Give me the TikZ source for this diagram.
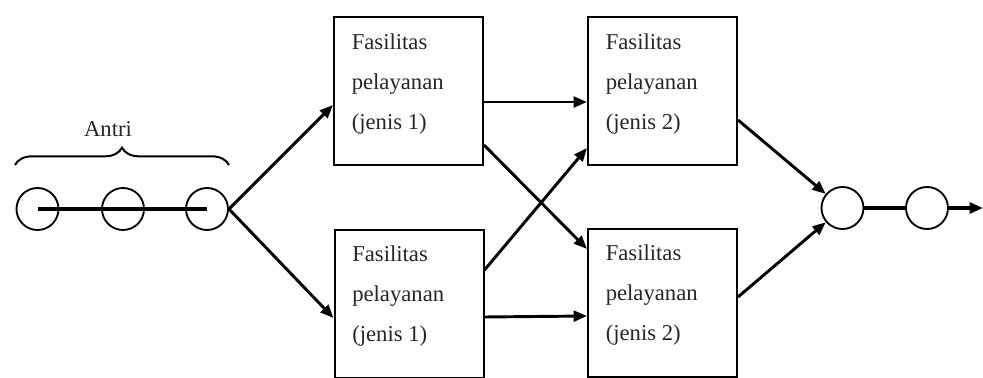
\documentclass[tikz,border=0pt]{standalone}
\usepackage{fontspec}
\setmainfont{Liberation Serif}
\usetikzlibrary{arrows.meta,calc,decorations.pathreplacing}

\tikzset{
  facility/.style={draw=black, line width=1.5pt, minimum width=111.75pt,
    minimum height=111pt, inner sep=0pt, fill=white},
  lbl/.style={anchor=base west, inner sep=0pt, text=black!85,
    font=\fontsize{17}{20}\selectfont},
  customer/.style={circle, draw=black, line width=1.4pt, minimum size=31.5pt,
    inner sep=0pt},
  flow/.style={line width=2.2pt, -{Triangle[length=10pt,width=8pt]}},
  queueline/.style={line width=3pt},
}

\begin{document}
\begin{tikzpicture}[x=0.75pt, y=-0.75pt]
\useasboundingbox (0,0) rectangle (983,378);

% waiting line
\node[customer] (q1) at (37.5,209) {};
\node[customer] (q2) at (123,209) {};
\node[customer] (q3) at (207,209) {};
\draw[queueline] (q1.center) -- (q3.center);
\draw[line width=1.5pt, decorate,
      decoration={brace, amplitude=13pt, raise=0pt}]
  (15,165) coordinate (bl) -- (229,165) coordinate (br);
\node[lbl, anchor=base] (antri) at (108,137) {Antri};

% service facilities
\node[facility] (b11) at (408.5,91.5) {};
\node[facility] (b12) at (409,303.5) {};
\node[facility] (b21) at (662.5,91.5) {};
\node[facility] (b22) at (662.5,302.5) {};

\foreach \b/\n in {b11/1, b12/1, b21/2, b22/2}{
  \node[lbl] (\b a) at ($(\b.north west)+(18.5,33)$) {Fasilitas};
  \node[lbl] (\b b) at ($(\b.north west)+(18.5,73)$) {pelayanan};
  \node[lbl] (\b c) at ($(\b.north west)+(18.5,113)$) {(jenis \n)};
}

% departures
\node[customer] (q4) at (842.5,208) {};
\node[customer] (q5) at (927,208) {};
\coordinate (out) at (983,208);

% flows
\draw[flow] (q3.east) -- ($(b11.west)+(0,13.5)$);
\draw[flow] (q3.east) -- ($(b12.west)+(0,14.5)$);
\draw[flow] ($(b11.east)+(0,10.5)$) -- ($(b21.west)+(0,10.5)$);
\draw[flow] ($(b11.east)+(0,53.5)$) -- ($(b22.west)+(0,-53.5)$);
\draw[flow] ($(b12.east)+(0,-33.5)$) -- ($(b21.west)+(0,56.5)$);
\draw[flow] ($(b12.east)+(0,13.5)$) -- ($(b22.west)+(0,13.5)$);
\draw[flow] ($(b21.east)+(0,28.5)$) -- (q4);
\draw[flow] ($(b22.east)+(0,-5.5)$) -- (q4);
\draw[queueline] (q4.east) -- (q5.west);
\draw[flow, line width=2.6pt] (q5.east) -- (out);
\end{tikzpicture}
\end{document}
